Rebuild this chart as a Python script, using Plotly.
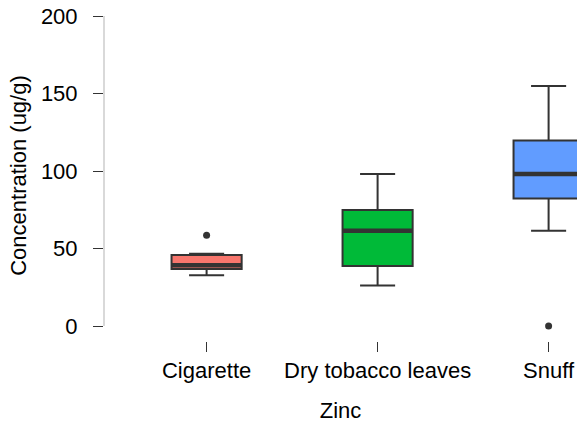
import plotly.graph_objects as go

categories = ["Cigarette", "Dry tobacco leaves", "Snuff"]
positions = [1, 2, 3]
lower_whisker = [32.7, 26.2, 61.5]
q1 = [36.8, 38.7, 82.2]
median = [39.2, 61.5, 98.0]
q3 = [45.8, 74.8, 119.6]
upper_whisker = [46.6, 98.0, 154.8]
colors = ["#F8766D", "#00BA38", "#619CFF"]
outlier_pos = [1, 3]
outlier_val = [58.5, 0]
y_ticks = [0, 50, 100, 150, 200]

box_w = 0.41
fig = go.Figure()
for i in range(len(categories)):
    fig.add_trace(go.Box(
        x=[positions[i]], q1=[q1[i]], median=[median[i]], q3=[q3[i]],
        lowerfence=[lower_whisker[i]], upperfence=[upper_whisker[i]],
        fillcolor=colors[i], line=dict(color="#333333", width=2),
        width=box_w, whiskerwidth=0.5, boxpoints=False, showlegend=False,
        hoverinfo="skip"))
    fig.add_trace(go.Scatter(
        x=[positions[i] - box_w / 2, positions[i] + box_w / 2],
        y=[median[i], median[i]], mode="lines",
        line=dict(color="#333333", width=4.5), showlegend=False, hoverinfo="skip"))

fig.add_trace(go.Scatter(x=outlier_pos, y=outlier_val, mode="markers",
                         marker=dict(color="#333333", size=7), showlegend=False,
                         cliponaxis=False))

fig.add_shape(type="line", xref="paper", yref="y", x0=0, x1=0,
              y0=min(y_ticks), y1=max(y_ticks), line=dict(color="#cccccc", width=1.5))

font = "Liberation Sans, Arial, sans-serif"
fig.update_layout(
    width=577, height=427,
    margin=dict(l=104, r=0, t=10, b=86),
    plot_bgcolor="white", paper_bgcolor="white",
    font=dict(family=font, size=22, color="black"),
    xaxis=dict(
        range=[0.4, 0.4 + 473 / 171], tickvals=positions, ticktext=categories,
        ticks="outside", ticklen=10, tickcolor="#333333", tickwidth=1,
        showline=False, showgrid=False, zeroline=False, automargin=False,
        ticklabeloverflow="allow",
        tickfont=dict(size=22, color="black"),
        title=dict(text="Zinc", font=dict(size=22), standoff=20),
    ),
    yaxis=dict(
        range=[(326 - 341) / 1.55, (326 - 10) / 1.55], tickvals=y_ticks,
        ticks="outside", ticklen=10, tickcolor="#333333", tickwidth=1,
        showline=False, showgrid=False, zeroline=False, automargin=False,
        ticklabeloverflow="allow",
        ticklabelstandoff=11,
        tickfont=dict(size=22, color="black"),
        title=dict(text="Concentration (ug/g)", font=dict(size=22), standoff=8),
    ),
)

fig.write_html("out.html", config={"displayModeBar": False},
               post_script="document.body.style.margin='0';document.body.style.overflow='hidden';")
